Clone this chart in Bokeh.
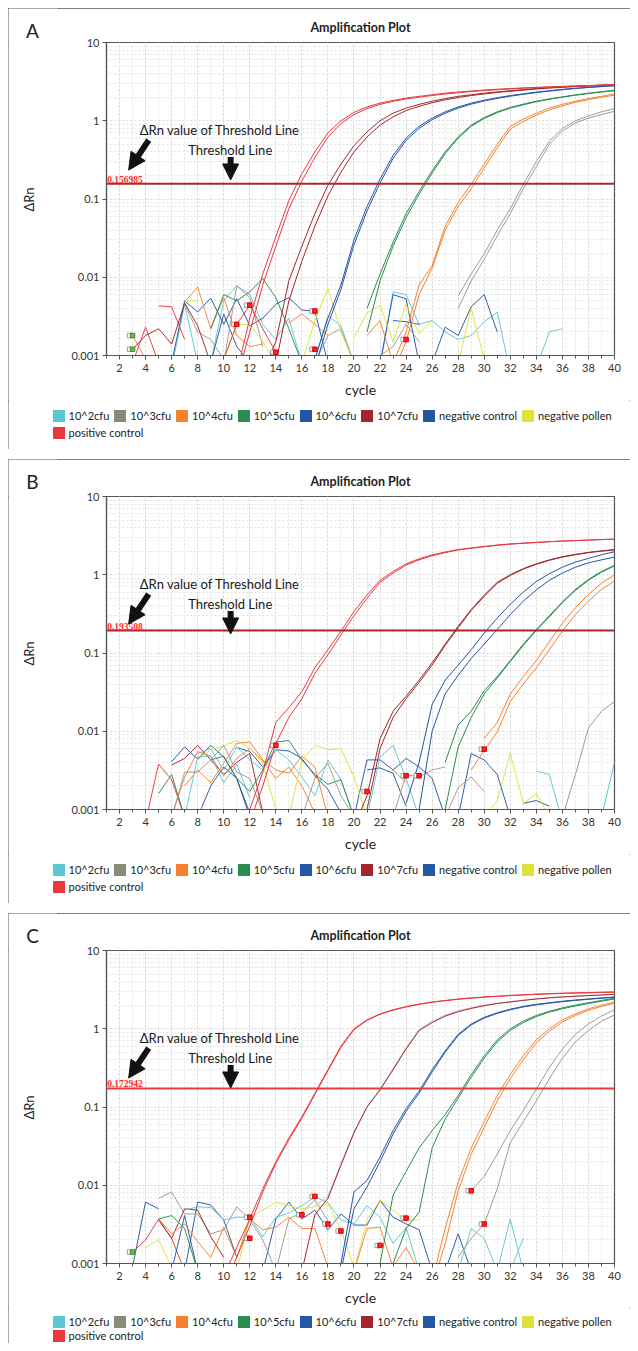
import math
from bokeh.plotting import figure
from bokeh.layouts import column, row
from bokeh.models import (Range1d, FixedTicker, Span, Label, Arrow, NormalHead,
                          Legend, LegendItem)
from bokeh.embed import file_html
from bokeh.resources import INLINE

# ---------------- colours / legend ----------------
LEGEND_LABELS = ["10^2cfu", "10^3cfu", "10^4cfu", "10^5cfu", "10^6cfu", "10^7cfu",
                 "negative control", "negative pollen", "positive control"]
LEGEND_COLORS = ["#5bc8d6", "#8a8a78", "#f6822f", "#2a8c4f", "#2455a6", "#a3262c",
                 "#2356a3", "#dde23c", "#e8393e"]
COL = {"c2": "#5bc8d6", "c3": "#9c9c90", "c4": "#f6822f", "c5": "#2a8c4f",
       "c6": "#2455a6", "c7": "#a3262c", "neg": "#2356a3", "pol": "#dde23c",
       "pos": "#e8393e", "lg": "#c4c4c4"}

Y_TICKS = [0.001, 0.01, 0.1, 1, 10]
Y_TICK_LABELS = ["0.001", "0.01", "0.1", "1", "10"]
X_TICKS = list(range(2, 41, 2))

# ---------------- thresholds ----------------
A_THR, B_THR, C_THR = 0.156985, 0.193508, 0.172942
A_THR_TXT, B_THR_TXT, C_THR_TXT = "0.156985", "0.193508", "0.172942"

# ---------------- panel A amplification curves (values per cycle from a start cycle) ----------------
A_POS_1 = [0.0006, 0.003, 0.011, 0.033, 0.095, 0.21, 0.4, 0.7, 1.0, 1.28, 1.5, 1.68, 1.82, 1.95, 2.05,
           2.15, 2.25, 2.33, 2.4, 2.47, 2.53, 2.58, 2.63, 2.67, 2.71, 2.75, 2.79, 2.82, 2.86, 2.9]
A_POS_2 = [0.0005, 0.002, 0.008, 0.025, 0.075, 0.17, 0.34, 0.62, 0.92, 1.2, 1.43, 1.62, 1.77, 1.9, 2.0,
           2.1, 2.2, 2.28, 2.36, 2.43, 2.49, 2.55, 2.6, 2.65, 2.69, 2.73, 2.77, 2.8, 2.84, 2.88]
A_C7_1 = [0.0006, 0.0015, 0.009, 0.025, 0.065, 0.15, 0.28, 0.48, 0.72, 1.0, 1.25, 1.45, 1.62, 1.78,
          1.92, 2.05, 2.15, 2.25, 2.34, 2.42, 2.5, 2.58, 2.64, 2.7, 2.75, 2.8, 2.85, 2.9]
A_C7_2 = [0.0008, 0.005, 0.016, 0.045, 0.11, 0.22, 0.4, 0.62, 0.88, 1.12, 1.35, 1.53, 1.7, 1.85,
          1.98, 2.1, 2.2, 2.3, 2.38, 2.46, 2.55, 2.62, 2.68, 2.73, 2.78, 2.83, 2.88]
A_C6_1 = [0.0009, 0.003, 0.008, 0.03, 0.08, 0.18, 0.36, 0.6, 0.85, 1.08, 1.3, 1.5, 1.68, 1.83, 1.97,
          2.1, 2.21, 2.32, 2.42, 2.52, 2.6, 2.68, 2.75, 2.82]
A_C6_2 = [0.0007, 0.0025, 0.007, 0.026, 0.07, 0.16, 0.33, 0.56, 0.8, 1.03, 1.25, 1.45, 1.63, 1.79,
          1.93, 2.06, 2.18, 2.29, 2.39, 2.49, 2.58, 2.66, 2.73, 2.8]
A_C5_1 = [0.004, 0.011, 0.028, 0.065, 0.125, 0.23, 0.4, 0.62, 0.88, 1.1, 1.3, 1.48, 1.63, 1.78, 1.9,
          2.02, 2.14, 2.25, 2.35, 2.45]
A_C5_2 = [0.002, 0.009, 0.025, 0.058, 0.115, 0.215, 0.38, 0.6, 0.85, 1.07, 1.27, 1.45, 1.6, 1.75,
          1.88, 2.0, 2.12, 2.23, 2.33, 2.42]
A_C4_1 = [0.0008, 0.002, 0.008, 0.014, 0.045, 0.09, 0.155, 0.28, 0.5, 0.85, 1.05, 1.25, 1.45, 1.62,
          1.78, 1.92, 2.05, 2.2]
A_C4_2 = [0.0006, 0.0015, 0.006, 0.013, 0.04, 0.08, 0.135, 0.25, 0.45, 0.78, 0.98, 1.18, 1.38, 1.55,
          1.72, 1.86, 2.0, 2.12]
A_C3_1 = [0.0058, 0.011, 0.02, 0.04, 0.075, 0.155, 0.3, 0.55, 0.8, 1.0, 1.15, 1.3, 1.43]
A_C3_2 = [0.004, 0.009, 0.017, 0.034, 0.065, 0.135, 0.26, 0.5, 0.74, 0.94, 1.08, 1.2, 1.32]

# ---------------- panel A baseline noise ----------------
A_N_C2_1 = [0.0007, 0.0045, 0.0008]
A_N_C2_2 = [0.0008, 0.005, 0.0078, 0.006, 0.0025, 0.0016, 0.003, 0.0008]
A_N_C2_3 = [0.0007, 0.0065, 0.006, 0.0025, 0.0028, 0.002, 0.0016, 0.0018, 0.0027, 0.0036, 0.0006]
A_N_C2_4 = [0.0007, 0.002, 0.0022]
A_N_C2_5 = [0.0009, 0.0032, 0.0024, 0.0008]
A_N_NEG_1 = [0.0008, 0.005, 0.0036, 0.0054, 0.0025, 0.0053, 0.0024, 0.003, 0.0045, 0.0055, 0.0038, 0.0037, 0.0008]
A_N_NEG_2 = [0.0008, 0.0034, 0.0013, 0.0008]
A_N_NEG_3 = [0.0008, 0.006, 0.0053, 0.0008]
A_N_NEG_4 = [0.0008, 0.0023, 0.0018, 0.0042, 0.006, 0.002]
A_N_NEG_5 = [0.0028, 0.0027, 0.0025]
A_N_C4_1 = [0.0018, 0.0009]
A_N_C4_2 = [0.0048, 0.0075, 0.0022, 0.0055, 0.0018, 0.0013, 0.0014]
A_N_C4_3 = [0.0026, 0.0034, 0.0025, 0.0018]
A_N_C4_4 = [0.0018, 0.0028, 0.0008]
A_N_C5_1 = [0.0022, 0.006, 0.005, 0.0065, 0.0096, 0.0055, 0.0022, 0.0008]
A_N_C3_1 = [0.0045, 0.002, 0.0016, 0.0009]
A_N_C3_2 = [0.0008, 0.0078, 0.0055, 0.0013]
A_N_C3_3 = [0.0008, 0.0018, 0.0022, 0.0008]
A_N_C3_4 = [0.001, 0.0013, 0.0025, 0.0015]
A_N_POL_1 = [0.005, 0.005]
A_N_POL_2 = [0.0009, 0.0025, 0.0025, 0.0015, 0.0008]
A_N_POL_3 = [0.0008, 0.0028, 0.0072, 0.002, 0.0008]
A_N_POL_4 = [0.0017, 0.0035, 0.0044, 0.0015, 0.0045, 0.0019, 0.0028]
A_N_POL_5 = [0.0008, 0.004, 0.0009]
A_N_POS_1 = [0.0008, 0.0023, 0.0008]
A_N_POS_2 = [0.0043, 0.0042, 0.0016]
A_N_POS_3 = [0.0009, 0.0025, 0.0044, 0.0022, 0.0011]
A_N_C7_1 = [0.0012, 0.0018, 0.0022, 0.0014, 0.0047, 0.0024, 0.0008]

A_MK_X = [11, 12, 14, 17, 17, 24]
A_MK_Y = [0.0025, 0.0044, 0.0011, 0.0037, 0.0012, 0.0016]
A_GMK_X = [3, 3]
A_GMK_Y = [0.0018, 0.0012]

# ---------------- panel B amplification curves ----------------
B_POS_1 = [0.001, 0.003, 0.013, 0.02, 0.032, 0.065, 0.11, 0.19, 0.34, 0.55, 0.85, 1.1, 1.38, 1.6, 1.8,
           1.95, 2.1, 2.2, 2.3, 2.4, 2.48, 2.54, 2.6, 2.65, 2.7, 2.74, 2.78, 2.82, 2.85]
B_POS_2 = [0.0007, 0.002, 0.007, 0.015, 0.026, 0.055, 0.095, 0.17, 0.3, 0.5, 0.8, 1.05, 1.33, 1.55,
           1.75, 1.92, 2.07, 2.18, 2.28, 2.38, 2.46, 2.52, 2.58, 2.64, 2.69, 2.73, 2.77, 2.81, 2.84]
B_C7_1 = [0.0006, 0.0015, 0.008, 0.018, 0.028, 0.045, 0.075, 0.13, 0.22, 0.36, 0.55, 0.8, 1.0, 1.2,
          1.38, 1.55, 1.7, 1.82, 1.93, 2.02, 2.1]
B_C7_2 = [0.0005, 0.001, 0.006, 0.015, 0.026, 0.042, 0.07, 0.125, 0.21, 0.35, 0.53, 0.78, 0.98, 1.18,
          1.36, 1.53, 1.68, 1.8, 1.92, 2.0, 2.08]
B_C6_1 = [0.0012, 0.004, 0.022, 0.045, 0.07, 0.11, 0.18, 0.28, 0.42, 0.6, 0.82, 1.03, 1.25, 1.45,
          1.62, 1.8, 1.97]
B_C6_2 = [0.0005, 0.001, 0.01, 0.03, 0.052, 0.085, 0.13, 0.2, 0.31, 0.46, 0.64, 0.85, 1.05, 1.25,
          1.42, 1.55, 1.68]
B_C5_1 = [0.004, 0.012, 0.018, 0.033, 0.05, 0.08, 0.13, 0.2, 0.3, 0.45, 0.65, 0.87, 1.1, 1.32]
B_C5_2 = [0.0005, 0.001, 0.0063, 0.015, 0.03, 0.048, 0.078, 0.125, 0.195, 0.29, 0.44, 0.63, 0.85,
          1.08, 1.3]
B_C4_1 = [0.0081, 0.013, 0.03, 0.05, 0.08, 0.14, 0.24, 0.38, 0.56, 0.78, 1.0]
B_C4_2 = [0.0032, 0.0057, 0.0098, 0.024, 0.04, 0.065, 0.11, 0.19, 0.31, 0.46, 0.65, 0.83]
B_C3_1 = [0.0008, 0.0028, 0.011, 0.018, 0.024]
B_C2_1 = [0.0008, 0.004]

# ---------------- panel B baseline noise ----------------
B_N_POS_1 = [0.0007, 0.0038, 0.0024, 0.0008]
B_N_C7_1 = [0.0037, 0.0045, 0.0066, 0.0043, 0.0028, 0.004, 0.0052, 0.0009]
B_N_NEG_1 = [0.0041, 0.0063, 0.0044, 0.0066, 0.0047, 0.0025, 0.0008]
B_N_NEG_2 = [0.0008, 0.002, 0.0035, 0.0025, 0.0009]
B_N_NEG_3 = [0.0062, 0.0055, 0.0035, 0.0058, 0.0056, 0.0045, 0.0027, 0.0018, 0.0009]
B_N_NEG_4 = [0.0008, 0.0043, 0.0043, 0.0032, 0.0045, 0.0035, 0.0025, 0.0008]
B_N_NEG_5 = [0.0032, 0.0034, 0.0029, 0.0011]
B_N_NEG_6 = [0.0008, 0.0052, 0.0043, 0.0028, 0.0008]
B_N_NEG_7 = [0.0012, 0.0013, 0.0011]
B_N_C2_1 = [0.0052, 0.006, 0.0032, 0.0063, 0.0043, 0.0032, 0.0058, 0.0043, 0.0026, 0.0015, 0.0043, 0.0024, 0.0008]
B_N_C2_2 = [0.0008, 0.0047, 0.0048, 0.0022, 0.0038, 0.0014]
B_N_C2_3 = [0.0008, 0.0047, 0.0066, 0.0025, 0.0008]
B_N_C2_4 = [0.0031, 0.0028, 0.0007]
B_N_C4_1 = [0.002, 0.0032, 0.0022, 0.0039, 0.007, 0.0073, 0.0043, 0.0032, 0.0029, 0.0048, 0.0035, 0.0008]
B_N_C4_2 = [0.0008, 0.0026, 0.0055, 0.0048, 0.0027, 0.0045, 0.006, 0.0042, 0.0025, 0.0035, 0.002, 0.0009]
B_N_C4_3 = [0.0032, 0.0022]
B_N_POL_1 = [0.0043, 0.0058, 0.0065, 0.0076, 0.006, 0.0039, 0.001]
B_N_POL_2 = [0.0008, 0.0043, 0.0066, 0.0058, 0.006, 0.0026, 0.0008]
B_N_POL_3 = [0.0008, 0.0013, 0.0052, 0.0012, 0.0016, 0.0008]
B_N_C5_1 = [0.0016, 0.0028, 0.0008]
B_N_C5_2 = [0.0043, 0.0048, 0.0025, 0.0017, 0.0032, 0.0073, 0.0076, 0.0043, 0.0028, 0.0021, 0.0024, 0.0008]
B_N_C3_1 = [0.0008, 0.003, 0.003, 0.0043, 0.0066, 0.003, 0.0025, 0.0009]
B_N_C3_2 = [0.0008, 0.0025, 0.0039, 0.0015, 0.0008]
B_N_C3_3 = [0.0008, 0.0028, 0.0026, 0.0032, 0.0035]
B_N_C3_4 = [0.0008, 0.0019, 0.0026, 0.0017]

B_MK_X = [14, 21, 24, 25, 30]
B_MK_Y = [0.0066, 0.0017, 0.0027, 0.0027, 0.0059]

# ---------------- panel C amplification curves ----------------
C_POS_1 = [0.0007, 0.0016, 0.0037, 0.009, 0.02, 0.04, 0.075, 0.15, 0.3, 0.6, 1.0, 1.3, 1.55, 1.75,
           1.92, 2.07, 2.2, 2.3, 2.4, 2.48, 2.55, 2.61, 2.67, 2.72, 2.77, 2.81, 2.85, 2.88, 2.9, 2.93, 2.95]
C_POS_2 = [0.0005, 0.0012, 0.003, 0.0082, 0.019, 0.038, 0.072, 0.145, 0.29, 0.58, 0.97, 1.28, 1.53,
           1.73, 1.9, 2.05, 2.18, 2.28, 2.38, 2.46, 2.53, 2.59, 2.65, 2.7, 2.75, 2.79, 2.83, 2.86, 2.88,
           2.91, 2.93]
C_C7_1 = [0.0008, 0.0042, 0.0068, 0.018, 0.047, 0.1, 0.165, 0.3, 0.55, 0.95, 1.2, 1.45, 1.65, 1.82,
          1.97, 2.1, 2.2, 2.3, 2.4, 2.48, 2.55, 2.6, 2.65, 2.7, 2.75]
C_LG_1 = [0.0055, 0.0072, 0.019, 0.048, 0.1, 0.17, 0.31, 0.58, 0.98, 1.25, 1.5, 1.7, 1.86, 2.0,
          2.12, 2.22, 2.32, 2.42, 2.5, 2.56, 2.61, 2.66, 2.71, 2.76]
C_C6_1 = [0.001, 0.0082, 0.0115, 0.023, 0.05, 0.095, 0.16, 0.3, 0.52, 0.85, 1.15, 1.4, 1.6, 1.78,
          1.93, 2.05, 2.15, 2.25, 2.33, 2.4, 2.48, 2.55]
C_C6_2 = [0.0008, 0.005, 0.0095, 0.02, 0.045, 0.088, 0.15, 0.28, 0.5, 0.82, 1.12, 1.37, 1.57, 1.75,
          1.9, 2.02, 2.12, 2.22, 2.3, 2.38, 2.45, 2.52]
C_C5_1 = [0.001, 0.0075, 0.015, 0.03, 0.05, 0.08, 0.14, 0.26, 0.45, 0.72, 1.0, 1.25, 1.48, 1.67,
          1.85, 2.0, 2.15, 2.3, 2.45]
C_C5_2 = [0.001, 0.0028, 0.0045, 0.03, 0.07, 0.13, 0.24, 0.42, 0.68, 0.95, 1.2, 1.43, 1.63, 1.8,
          1.96, 2.1, 2.25, 2.4]
C_C4_1 = [0.0006, 0.0028, 0.011, 0.03, 0.065, 0.14, 0.26, 0.45, 0.72, 1.0, 1.3, 1.55, 1.8, 2.0, 2.2]
C_C4_2 = [0.0005, 0.0018, 0.0085, 0.025, 0.055, 0.12, 0.23, 0.4, 0.66, 0.93, 1.22, 1.48, 1.72, 1.93, 2.12]
C_C3_1 = [0.0085, 0.013, 0.025, 0.05, 0.09, 0.17, 0.32, 0.55, 0.85, 1.15, 1.45, 1.75]
C_C3_2 = [0.0012, 0.0021, 0.0032, 0.009, 0.035, 0.065, 0.12, 0.23, 0.42, 0.68, 0.95, 1.25, 1.5]

# ---------------- panel C baseline noise ----------------
C_N_POS_1 = [0.0014, 0.002, 0.0037, 0.0021, 0.0008]
C_N_NEG_1 = [0.0009, 0.0061, 0.005]
C_N_NEG_2 = [0.0008, 0.0041, 0.0008]
C_N_NEG_3 = [0.0008, 0.0061, 0.0056, 0.0036, 0.0012]
C_N_NEG_4 = [0.0008, 0.0037, 0.0061, 0.0037, 0.0048, 0.0027, 0.0043, 0.0031, 0.0031, 0.0064, 0.0039,
             0.0032, 0.0027, 0.0008]
C_N_NEG_5 = [0.0008, 0.0024, 0.0008]
C_N_C3_1 = [0.0068, 0.0082, 0.0043, 0.0043, 0.0024, 0.0027, 0.0053, 0.0036, 0.002, 0.0008]
C_N_C3_2 = [0.0008, 0.0037, 0.0045, 0.0065, 0.0035]
C_N_C7_1 = [0.0036, 0.0021, 0.005, 0.0048, 0.0022, 0.0012]
C_N_C2_1 = [0.0048, 0.0053, 0.0052, 0.0036, 0.0039, 0.0039, 0.0022, 0.0039, 0.0044, 0.0055, 0.0071,
            0.006, 0.0036, 0.0032, 0.0055, 0.0039, 0.0018, 0.0029, 0.0008]
C_N_C2_2 = [0.0008, 0.0028, 0.0021, 0.0008]
C_N_C2_3 = [0.0008, 0.0037, 0.0008]
C_N_C2_4 = [0.0008, 0.0021]
C_N_POL_1 = [0.0016, 0.002, 0.0009]
C_N_POL_2 = [0.0008, 0.0039, 0.0048, 0.0061, 0.0055, 0.005, 0.0053, 0.0058, 0.0027, 0.0009]
C_N_POL_3 = [0.0008, 0.0036, 0.0064, 0.0048, 0.0036, 0.0036]
C_N_C4_1 = [0.0037, 0.0024, 0.0032, 0.0019, 0.0012, 0.0029, 0.0012, 0.0037, 0.0027, 0.0029, 0.0039,
            0.0028, 0.0028, 0.0009]
C_N_C4_2 = [0.0008, 0.0028, 0.0029, 0.0009, 0.0016, 0.0008]
C_N_C5_1 = [0.0037, 0.0041, 0.0028, 0.0008]

C_MK_X = [12, 12, 16, 17, 18, 19, 22, 24, 29, 30]
C_MK_Y = [0.0039, 0.0021, 0.0042, 0.0072, 0.0032, 0.0026, 0.0017, 0.0038, 0.0085, 0.0032]
C_GMK_X = [3]
C_GMK_Y = [0.0014]

# ---------------- tables built from the arrays: (colour key, start cycle, values) ----------------
A_CURVES = [("c3", 28, A_C3_1), ("c3", 28, A_C3_2), ("c4", 23, A_C4_1), ("c4", 23, A_C4_2),
            ("c5", 21, A_C5_1), ("c5", 21, A_C5_2), ("c6", 17, A_C6_1), ("c6", 17, A_C6_2),
            ("c7", 13, A_C7_1), ("c7", 14, A_C7_2), ("pos", 11, A_POS_1), ("pos", 11, A_POS_2)]
A_NOISE = [("c2", 6, A_N_C2_1), ("c2", 9, A_N_C2_2), ("c2", 22, A_N_C2_3), ("c2", 34, A_N_C2_4),
           ("c2", 17, A_N_C2_5), ("neg", 6, A_N_NEG_1), ("neg", 9, A_N_NEG_2), ("neg", 22, A_N_NEG_3),
           ("neg", 26, A_N_NEG_4), ("neg", 23, A_N_NEG_5), ("c4", 3, A_N_C4_1), ("c4", 7, A_N_C4_2),
           ("c4", 15, A_N_C4_3), ("c4", 21, A_N_C4_4), ("c5", 9, A_N_C5_1), ("c3", 7, A_N_C3_1),
           ("c3", 10, A_N_C3_2), ("c3", 17, A_N_C3_3), ("c3", 22, A_N_C3_4), ("pol", 7, A_N_POL_1),
           ("pol", 10, A_N_POL_2), ("pol", 16, A_N_POL_3), ("pol", 20, A_N_POL_4), ("pol", 28, A_N_POL_5),
           ("pos", 3, A_N_POS_1), ("pos", 5, A_N_POS_2), ("pos", 10, A_N_POS_3), ("c7", 3, A_N_C7_1)]

B_CURVES = [("c2", 39, B_C2_1), ("c3", 36, B_C3_1), ("c4", 30, B_C4_1), ("c4", 29, B_C4_2),
            ("c5", 27, B_C5_1), ("c5", 26, B_C5_2), ("c6", 24, B_C6_1), ("c6", 24, B_C6_2),
            ("c7", 20, B_C7_1), ("c7", 20, B_C7_2), ("pos", 12, B_POS_1), ("pos", 12, B_POS_2)]
B_NOISE = [("pos", 4, B_N_POS_1), ("c7", 6, B_N_C7_1), ("neg", 6, B_N_NEG_1), ("neg", 8, B_N_NEG_2),
           ("neg", 11, B_N_NEG_3), ("neg", 20, B_N_NEG_4), ("neg", 21, B_N_NEG_5), ("neg", 28, B_N_NEG_6),
           ("neg", 33, B_N_NEG_7), ("c2", 8, B_N_C2_1), ("c2", 7, B_N_C2_2), ("c2", 21, B_N_C2_3),
           ("c2", 34, B_N_C2_4), ("c4", 7, B_N_C4_1), ("c4", 6, B_N_C4_2), ("c4", 23, B_N_C4_3),
           ("pol", 8, B_N_POL_1), ("pol", 15, B_N_POL_2), ("pol", 30, B_N_POL_3), ("c5", 5, B_N_C5_1),
           ("c5", 9, B_N_C5_2), ("c3", 6, B_N_C3_1), ("c3", 16, B_N_C3_2), ("c3", 23, B_N_C3_3),
           ("c3", 27, B_N_C3_4)]

C_CURVES = [("c3", 29, C_C3_1), ("c3", 28, C_C3_2), ("c4", 26, C_C4_1), ("c4", 26, C_C4_2),
            ("c5", 22, C_C5_1), ("c5", 23, C_C5_2), ("c6", 19, C_C6_1), ("c6", 19, C_C6_2),
            ("lg", 17, C_LG_1), ("c7", 16, C_C7_1), ("pos", 10, C_POS_1), ("pos", 10, C_POS_2)]
C_NOISE = [("pos", 3, C_N_POS_1), ("neg", 3, C_N_NEG_1), ("neg", 6, C_N_NEG_2), ("neg", 7, C_N_NEG_3),
           ("neg", 13, C_N_NEG_4), ("neg", 27, C_N_NEG_5), ("c3", 5, C_N_C3_1), ("c3", 14, C_N_C3_2),
           ("c7", 5, C_N_C7_1), ("c2", 7, C_N_C2_1), ("c2", 28, C_N_C2_2), ("c2", 31, C_N_C2_3),
           ("c2", 32, C_N_C2_4), ("pol", 4, C_N_POL_1), ("pol", 11, C_N_POL_2), ("pol", 20, C_N_POL_3),
           ("c4", 5, C_N_C4_1), ("c4", 20, C_N_C4_2), ("c5", 5, C_N_C5_1)]

FONT = "Lato"
SIDE_W = 50          # narrow left strip holding the panel letter and the y label
FRAME_H = 314


def blank_fig(w, h):
    f = figure(width=w, height=h, x_range=Range1d(0, w), y_range=Range1d(0, h),
               x_axis_type=None, y_axis_type=None, output_backend="svg",
               toolbar_location=None, min_border=0, min_border_left=0, min_border_right=0,
               min_border_top=0, min_border_bottom=0, outline_line_color=None,
               background_fill_color="white", border_fill_color="white")
    return f


def make_panel(letter, thr, thr_txt, thr_color, curves, noise, mk_x, mk_y, gmk_x, gmk_y,
               top, bottom, leg_h, leg_rows):
    chart_h = top + FRAME_H + bottom
    p = figure(width=622 - SIDE_W, height=chart_h, x_range=Range1d(1, 40),
               y_range=Range1d(0.001, 10), y_axis_type="log", output_backend="svg",
               toolbar_location=None, min_border_left=98 - SIDE_W, min_border_right=16,
               min_border_top=top, min_border_bottom=bottom, background_fill_color="white",
               border_fill_color="white")
    p.title.text = "Amplification Plot"
    p.title.align = "center"
    p.title.text_font = FONT
    p.title.text_font_size = "12.5px"
    p.title.text_font_style = "bold"
    p.title.text_color = "#222222"
    p.title.standoff = 16
    p.outline_line_color = "#555555"
    p.outline_line_width = 1.2

    p.xaxis.ticker = FixedTicker(ticks=X_TICKS, minor_ticks=list(range(1, 41)))
    minor_y = [m * d for d in [0.001, 0.01, 0.1, 1] for m in range(2, 10)]
    p.yaxis.ticker = FixedTicker(ticks=Y_TICKS, minor_ticks=minor_y)
    p.yaxis.major_label_overrides = {t: s for t, s in zip(Y_TICKS, Y_TICK_LABELS)}
    for ax in (p.xaxis[0], p.yaxis[0]):
        ax.axis_line_color = "#555555"
        ax.axis_line_width = 1.2
        ax.major_tick_line_color = "#555555"
        ax.major_tick_out = 4
        ax.major_tick_in = 0
        ax.major_label_text_font = FONT
        ax.major_label_text_font_size = "11px"
        ax.major_label_text_color = "#333333"
        ax.axis_label_text_font = FONT
        ax.axis_label_text_font_style = "normal"
        ax.axis_label_text_color = "#222222"
    p.xaxis.minor_tick_line_color = "#555555"
    p.xaxis.minor_tick_out = 3
    p.xaxis.minor_tick_in = 0
    p.yaxis.minor_tick_line_color = None
    p.xaxis.major_label_standoff = 4
    p.yaxis.major_label_standoff = 3
    p.xaxis.axis_label = "cycle"
    p.xaxis.axis_label_text_font_size = "14px"
    p.xaxis.axis_label_standoff = 6

    for g in (p.xgrid[0], p.ygrid[0]):
        g.grid_line_color = "#d6d6d6"
        g.grid_line_dash = "2 2"
        g.minor_grid_line_color = "#e2e2e2"
        g.minor_grid_line_dash = "2 2"

    for key, start, vals in noise:
        p.line(list(range(start, start + len(vals))), vals, line_color=COL[key],
               line_width=1, line_alpha=0.95)
    for key, start, vals in curves:
        p.line(list(range(start, start + len(vals))), vals, line_color=COL[key],
               line_width=1)

    p.add_layout(Span(location=thr, dimension="width", line_color=thr_color, line_width=2))
    p.add_layout(Label(x=1.05, y=thr, text=thr_txt, text_font="Liberation Serif",
                       text_font_size="9.5px", text_font_style="bold", text_color="#ff2b2b",
                       text_baseline="bottom", y_offset=1))

    # Ct markers
    p.scatter([x - 0.22 for x in mk_x], mk_y, marker="square", size=4.5, fill_color="white",
              line_color="#888888", line_width=0.8)
    p.scatter(mk_x, mk_y, marker="square", size=4.5, fill_color="#ff2020", line_color="#dd0000")
    if gmk_x:
        p.scatter([x - 0.22 for x in gmk_x], gmk_y, marker="square", size=4.5, fill_color="white",
                  line_color="#888888", line_width=0.8)
        p.scatter(gmk_x, gmk_y, marker="square", size=4.5, fill_color="#66bb44",
                  line_color="#448822")

    # annotations
    p.add_layout(Label(x=9.7, y=0.757, text="\u0394Rn value of Threshold Line",
                       text_align="center", text_baseline="middle", text_font=FONT,
                       text_font_size="13px", text_color="#1a1a1a"))
    p.add_layout(Label(x=10.5, y=0.42, text="Threshold Line", text_align="center",
                       text_baseline="middle", text_font=FONT, text_font_size="13px",
                       text_color="#1a1a1a"))
    p.add_layout(Arrow(x_start=4.24, y_start=0.565, x_end=2.7, y_end=0.234, line_width=6,
                       line_color="#111111",
                       end=NormalHead(size=17, fill_color="#111111", line_color="#111111")))
    p.add_layout(Arrow(x_start=10.53, y_start=0.345, x_end=10.53, y_end=0.175, line_width=6,
                       line_color="#111111",
                       end=NormalHead(size=16, fill_color="#111111", line_color="#111111")))

    # left strip: panel letter (own small figure) and y-axis label
    letter_fig = blank_fig(SIDE_W, top)
    letter_fig.add_layout(Label(x=24, y=top - 22, text=letter, text_align="center",
                                text_baseline="middle", text_font=FONT, text_font_size="19px",
                                text_color="#222222"))
    ylab_h = chart_h - top
    ylab_fig = blank_fig(SIDE_W, ylab_h)
    ylab_fig.add_layout(Label(x=20, y=ylab_h - FRAME_H / 2, text="\u0394Rn",
                              angle=math.pi / 2, text_align="center", text_baseline="middle",
                              text_font=FONT, text_font_size="13px", text_color="#222222"))
    side = column(letter_fig, ylab_fig, spacing=0)

    # legend strip (the swatch quads sit outside the strip's visible range)
    leg = blank_fig(622, leg_h)
    items1, items2 = [], []
    for i, (lab, col) in enumerate(zip(LEGEND_LABELS, LEGEND_COLORS)):
        r = leg.quad(left=[-20], right=[-10], top=[-10], bottom=[-20], fill_color=col,
                     line_color=None)
        (items1 if i < 8 else items2).append(LegendItem(label=lab, renderers=[r]))
    for items, vy in zip((items1, items2), leg_rows):
        lg = Legend(items=items, location=(42.5, vy), orientation="horizontal",
                    glyph_width=15, glyph_height=15, label_height=15, label_standoff=3,
                    spacing=3, padding=0, margin=0, border_line_color=None,
                    background_fill_alpha=0, label_text_font=FONT,
                    label_text_font_size="11px", label_text_color="#222222")
        leg.add_layout(lg)

    panel = column(row(side, p, spacing=0), leg, spacing=0,
                   styles={"outline": "1px solid #555555", "outline-offset": "-1px"})
    return panel


pA = make_panel("A", A_THR, A_THR_TXT, "#a8282c", A_CURVES, A_NOISE, A_MK_X, A_MK_Y,
                A_GMK_X, A_GMK_Y, 34, 44, 49, (26, 9))
pB = make_panel("B", B_THR, B_THR_TXT, "#a8282c", B_CURVES, B_NOISE, B_MK_X, B_MK_Y,
                [], [], 37, 44, 49, (26, 9))
pC = make_panel("C", C_THR, C_THR_TXT, "#e8393e", C_CURVES, C_NOISE, C_MK_X, C_MK_Y,
                C_GMK_X, C_GMK_Y, 37, 44, 35, (14, 0))

layout = column(pA, pB, pC, spacing=10, margin=(8, 0, 0, 8))
open("out.html", "w").write(file_html(layout, INLINE))
